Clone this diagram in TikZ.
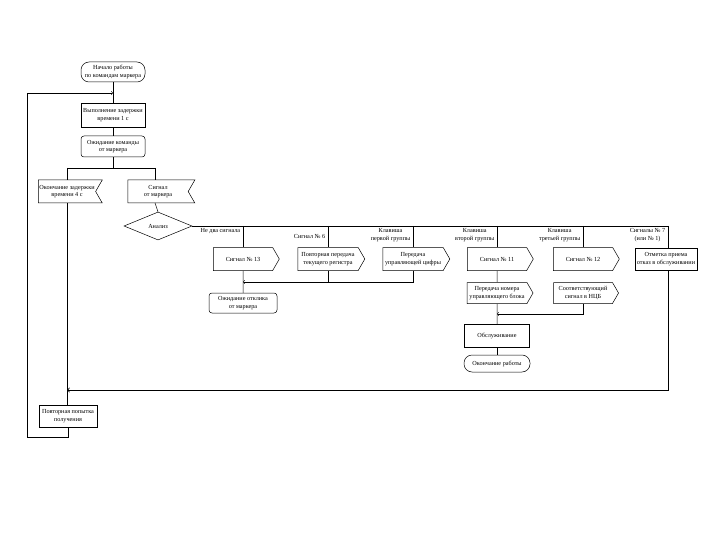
\documentclass[tikz,border=0pt]{standalone}
\usepackage{fontspec}
\setmainfont{Liberation Serif}
\usetikzlibrary{shapes.geometric,shapes.symbols}

\begin{document}
\begin{tikzpicture}[x=1pt, y=-1pt, line width=0.5pt,
        font=\fontsize{6.2}{7.4}\selectfont,
        term/.style={draw, rounded corners=8pt, align=center, inner sep=1pt},
        proc/.style={draw, align=center, inner sep=1pt},
        state/.style={draw, rounded corners=3pt, align=center, inner sep=1pt},
        sigin/.style={draw, signal, signal to=nowhere, signal from=east, signal pointer angle=120, align=center, inner sep=1pt},
        sigout/.style={draw, signal, signal to=east, signal pointer angle=120, align=center, inner sep=1pt},
        choice/.style={draw, diamond, aspect=2.4, inner sep=0pt},
        lbl/.style={align=center, inner sep=0.5pt}]
        \useasboundingbox (0,0) rectangle (720,540);

        \node[term, minimum width=64pt, minimum height=20pt] (start) at (113,72) {Начало работы\\по командам маркера};
        \node[proc, minimum width=64pt, minimum height=24pt] (delay) at (113,115) {Выполнение задержки\\времени 1 с};
        \node[state, minimum width=64pt, minimum height=21pt] (waitcmd) at (113,146.5) {Ожидание команды\\от маркера};
        \node[sigin, minimum width=56pt, minimum height=23pt] (timeout) at (67,191.5) {Окончание задержки\\времени 4 с};
        \node[sigin, minimum width=67pt, minimum height=23pt] (sigmark) at (158,191.5) {Сигнал\\от маркера};
        \node[choice, minimum width=68pt, minimum height=28pt] (analysis) at (158,226) {Анализ};

        \node[sigout, minimum width=66pt, minimum height=23pt] (sig13) at (243,259) {Сигнал № 13};
        \node[sigout, minimum width=67pt, minimum height=23pt] (resend) at (328,259) {Повторная передача\\текущего регистра};
        \node[sigout, minimum width=67pt, minimum height=23pt] (pass) at (413,259) {Передача\\управляющей цифры};
        \node[sigout, minimum width=66pt, minimum height=23pt] (sig11) at (497,259) {Сигнал № 11};
        \node[sigout, minimum width=66pt, minimum height=23pt] (sig12) at (583,259) {Сигнал № 12};
        \node[proc, minimum width=62pt, minimum height=22pt] (refuse) at (666,259) {Отметка приема\\отказ в обслуживании};

        \node[state, minimum width=68pt, minimum height=20pt] (waitresp) at (243,303) {Ожидание отклика\\от маркера};
        \node[sigout, minimum width=66pt, minimum height=21pt] (passnum) at (497,293) {Передача номера\\управляющего блока};
        \node[sigout, minimum width=65pt, minimum height=21pt] (signcb) at (583,293) {Соответствующий\\сигнал в НЦБ};
        \node[proc, minimum width=65pt, minimum height=23pt] (service) at (497,335.5) {Обслуживание};
        \node[term, minimum width=66pt, minimum height=17pt] (finish) at (497,363.5) {Окончание работы};
        \node[proc, minimum width=58pt, minimum height=22pt] (retry) at (68,416) {Повторная попытка\\получения};

        \node[lbl, anchor=north east] at (241,228) {Не два сигнала};
        \node[lbl, anchor=east] at (326,236) {Сигнал № 6};
        \node[lbl, anchor=east] at (411,235) {Клавиша\\первой группы};
        \node[lbl, anchor=east] at (495,235) {Клавиша\\второй группы};
        \node[lbl, anchor=east] at (581,235) {Клавиша\\третьей группы};
        \node[lbl, anchor=east] at (666,235) {Сигналы № 7\\(или № 1)};

        \draw (start) -- (delay);
        \draw (delay) -- (waitcmd);
        \draw (waitcmd) -- (113,168);
        \draw (67,168) coordinate (forkl) -- (155,168) coordinate (forkr);
        \draw (forkl) -- (timeout.north);
        \draw (forkr) -- (155,180);
        \draw (155,203) -- (analysis.north);
        \draw (analysis.east) -- (668,226) coordinate (busend);
        \foreach \n/\x in {sig13/243, resend/328, pass/413, sig11/497, sig12/583}
            \draw (\x,226) -- (\n.north);
        \draw (busend) -- (668,248);

        \draw (sig13) -- (waitresp);
        \draw (resend.south) -- (328,282);
        \draw[->] (pass.south) -- (413,282) -- (243,282);
        \draw (sig11) -- (passnum);
        \draw (passnum) -- (service);
        \draw[->] (signcb.south) -- (583,314) -- (497,314);
        \draw (service) -- (finish);

        \draw (timeout.south) -- (67,405);
        \draw[->, line width=0.9pt] (668,270) -- (668,390) -- (67,390);
        \draw[->] (retry.south) -- (68,437) -- (27,437) -- (27,93) -- (113,93);
    \end{tikzpicture}
\end{document}
